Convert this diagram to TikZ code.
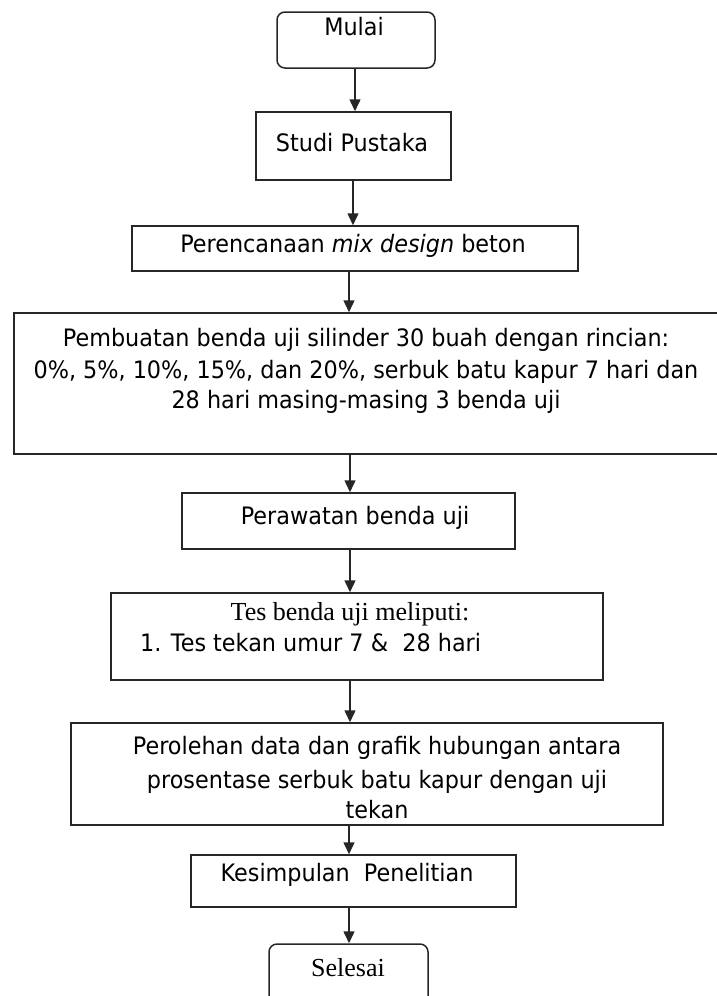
\documentclass[tikz,border=0pt]{standalone}
\usepackage{fontspec}
\setmainfont{DejaVu Sans}[FakeStretch=0.93]
\newfontfamily\tnr{Liberation Serif}
\usetikzlibrary{arrows.meta}

\begin{document}
\begin{tikzpicture}[x=1pt, y=-1pt,
  box/.style={draw=black!85, line width=1.5pt, inner sep=0pt},
  rbox/.style={box, rounded corners=8pt},
  txt/.style={inner sep=0pt, font=\fontsize{24}{28}\selectfont},
  ser/.style={inner sep=0pt, font=\tnr\fontsize{26}{30}\selectfont},
  arr/.style={line width=1.5pt, black!85, -{Triangle[width=11pt,length=12pt]}}]

 \useasboundingbox (0,0) rectangle (716,996);

 %draw boxes
 \foreach \name/\cx/\cy/\w/\h in {studi/353.5/146/195/68, renc/355/248.5/446/45, buat/367/383.5/706/141,
        rawat/348.5/521/333/56, tes/357/636.5/492/87, oleh/367/774/592/102, simpul/353.5/881/325/52}{
    \node[box, minimum width=\w pt, minimum height=\h pt] (\name) at (\cx,\cy) {};
 }
 \node[rbox, minimum width=158pt, minimum height=56pt] (mulai) at (356,40) {};
 \node[rbox, minimum width=159pt, minimum height=66pt] (selesai) at (348.5,977) {};

 %draw text
 \node[txt] (tmulai) at (354,27) {Mulai};
 \node[txt] (tstudi) at (352,143) {Studi Pustaka};
 \node[txt] (trenc) at (353,246) {Perencanaan \textit{mix design} beton};

 \foreach \i/\cy/\txt in {{1/340/Pembuatan benda uji silinder 30 buah dengan rincian:},
        {2/372/0\%, 5\%, 10\%, 15\%, dan 20\%, serbuk batu kapur 7 hari dan},
        {3/402/28 hari masing-masing 3 benda uji}}{
    \node[txt] (tbuat\i) at (366,\cy) {\txt};
 }

 \node[txt] (trawat) at (355,518) {Perawatan benda uji};
 \node[ser] (ttes1) at (350,614) {Tes benda uji meliputi:};
 \node[txt, anchor=west] (ttes2) at (140,643) {1. Tes tekan umur 7 \&\ \ 28 hari};

 \foreach \i/\cy/\txt in {1/748/Perolehan data dan grafik hubungan antara,
        2/782/prosentase serbuk batu kapur dengan uji, 3/810/tekan}{
    \node[txt] (toleh\i) at (377,\cy) {\txt};
 }

 \node[txt] (tsimpul) at (347,875) {Kesimpulan\ \ Penelitian};
 \node[ser] (tselesai) at (348,968) {Selesai};

 %draw arrows
 \foreach \a/\b/\x in {mulai/studi/355, studi/renc/353, renc/buat/349, buat/rawat/350,
        rawat/tes/350, tes/oleh/350, oleh/simpul/349, simpul/selesai/349}{
    \coordinate (ax) at (\x,0);
    \draw[arr] (\a.south -| ax) -- (\b.north -| ax);
 }

\end{tikzpicture}
\end{document}
